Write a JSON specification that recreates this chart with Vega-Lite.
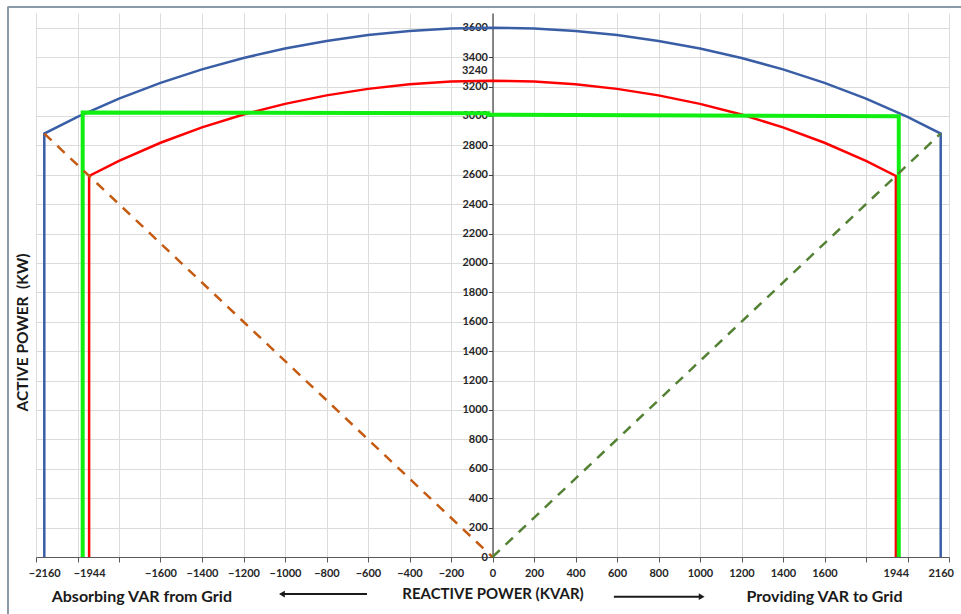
{
  "$schema": "https://vega.github.io/schema/vega-lite/v6.json",
  "width": 913,
  "height": 544,
  "autosize": {"type": "none"},
  "padding": {"left": 36, "top": 13, "right": 12, "bottom": 57},
  "background": "white",
  "config": {
    "view": {"stroke": null},
    "font": "Lato",
    "axis": {"labelFont": "Lato", "labelFontWeight": "bold", "labelFontSize": 11, "labelColor": "#262626", "titleFont": "Lato", "titleFontWeight": "bold", "titleColor": "#1a1a1a", "format": "d"}
  },
  "datasets": {
    "curves": [
      {"series": "blue", "order": 1, "x": -2160, "y": 0},
      {"series": "blue", "order": 2, "x": -2160, "y": 2880},
      {"series": "blue", "order": 3, "x": -2000, "y": 2993.3},
      {"series": "blue", "order": 4, "x": -1800, "y": 3117.7},
      {"series": "blue", "order": 5, "x": -1600, "y": 3224.9},
      {"series": "blue", "order": 6, "x": -1400, "y": 3316.6},
      {"series": "blue", "order": 7, "x": -1200, "y": 3394.1},
      {"series": "blue", "order": 8, "x": -1000, "y": 3458.3},
      {"series": "blue", "order": 9, "x": -800, "y": 3510.0},
      {"series": "blue", "order": 10, "x": -600, "y": 3549.6},
      {"series": "blue", "order": 11, "x": -400, "y": 3577.7},
      {"series": "blue", "order": 12, "x": -200, "y": 3594.4},
      {"series": "blue", "order": 13, "x": 0, "y": 3600},
      {"series": "blue", "order": 14, "x": 200, "y": 3594.4},
      {"series": "blue", "order": 15, "x": 400, "y": 3577.7},
      {"series": "blue", "order": 16, "x": 600, "y": 3549.6},
      {"series": "blue", "order": 17, "x": 800, "y": 3510.0},
      {"series": "blue", "order": 18, "x": 1000, "y": 3458.3},
      {"series": "blue", "order": 19, "x": 1200, "y": 3394.1},
      {"series": "blue", "order": 20, "x": 1400, "y": 3316.6},
      {"series": "blue", "order": 21, "x": 1600, "y": 3224.9},
      {"series": "blue", "order": 22, "x": 1800, "y": 3117.7},
      {"series": "blue", "order": 23, "x": 2000, "y": 2993.3},
      {"series": "blue", "order": 24, "x": 2160, "y": 2880},
      {"series": "blue", "order": 25, "x": 2160, "y": 0},
      {"series": "red", "order": 1, "x": -1944, "y": 0},
      {"series": "red", "order": 2, "x": -1944, "y": 2592},
      {"series": "red", "order": 3, "x": -1800, "y": 2694.0},
      {"series": "red", "order": 4, "x": -1600, "y": 2817.4},
      {"series": "red", "order": 5, "x": -1400, "y": 2921.9},
      {"series": "red", "order": 6, "x": -1200, "y": 3009.6},
      {"series": "red", "order": 7, "x": -1000, "y": 3081.8},
      {"series": "red", "order": 8, "x": -800, "y": 3139.7},
      {"series": "red", "order": 9, "x": -600, "y": 3183.9},
      {"series": "red", "order": 10, "x": -400, "y": 3215.2},
      {"series": "red", "order": 11, "x": -200, "y": 3233.8},
      {"series": "red", "order": 12, "x": 0, "y": 3240},
      {"series": "red", "order": 13, "x": 200, "y": 3233.8},
      {"series": "red", "order": 14, "x": 400, "y": 3215.2},
      {"series": "red", "order": 15, "x": 600, "y": 3183.9},
      {"series": "red", "order": 16, "x": 800, "y": 3139.7},
      {"series": "red", "order": 17, "x": 1000, "y": 3081.8},
      {"series": "red", "order": 18, "x": 1200, "y": 3009.6},
      {"series": "red", "order": 19, "x": 1400, "y": 2921.9},
      {"series": "red", "order": 20, "x": 1600, "y": 2817.4},
      {"series": "red", "order": 21, "x": 1800, "y": 2694.0},
      {"series": "red", "order": 22, "x": 1944, "y": 2592},
      {"series": "red", "order": 23, "x": 1944, "y": 0},
      {"series": "green", "order": 1, "x": -1975, "y": 0},
      {"series": "green", "order": 2, "x": -1975, "y": 3023},
      {"series": "green", "order": 3, "x": -20, "y": 3019},
      {"series": "green", "order": 4, "x": -20, "y": 3008},
      {"series": "green", "order": 5, "x": 1958, "y": 2998},
      {"series": "green", "order": 6, "x": 1958, "y": 0},
      {"series": "orangeDash", "order": 1, "x": -2160, "y": 2880},
      {"series": "orangeDash", "order": 2, "x": 0, "y": 0},
      {"series": "greenDash", "order": 1, "x": 0, "y": 0},
      {"series": "greenDash", "order": 2, "x": 2160, "y": 2880}
    ]
  },
  "layer": [
    {
      "data": {"values": [
        {"x": -2335, "x2": -2335, "y": -420, "y2": 3745},
        {"x": -2335, "x2": 2300, "y": 3741, "y2": 3741}
      ]},
      "mark": {"type": "rule", "color": "#8a9aa6", "strokeWidth": 2, "clip": false},
      "encoding": {
        "x": {"field": "x", "type": "quantitative", "axis": null},
        "x2": {"field": "x2"},
        "y": {"field": "y", "type": "quantitative", "axis": null},
        "y2": {"field": "y2"}
      }
    },
    {
      "data": {"name": "curves"},
      "transform": [{"filter": "datum.series === 'blue'"}],
      "mark": {"type": "line", "color": "#3a5ea6", "strokeWidth": 2.5},
      "encoding": {
        "x": {"field": "x", "type": "quantitative",
          "scale": {"domain": [-2200, 2200], "nice": false, "zero": false},
          "axis": {"orient": "bottom", "values": [-2200,-2000,-1800,-1600,-1400,-1200,-1000,-800,-600,-400,-200,0,200,400,600,800,1000,1200,1400,1600,1800,2000,2200],
            "grid": true, "gridColor": "#dcdcdc", "gridWidth": 1, "labels": false, "ticks": true, "tickSize": 5, "tickColor": "#595959", "domain": true, "domainColor": "#595959", "title": null}},
        "y": {"field": "y", "type": "quantitative",
          "scale": {"domain": [0, 3700], "nice": false},
          "axis": {"orient": "left", "values": [0,200,400,600,800,1000,1200,1400,1600,1800,2000,2200,2400,2600,2800,3000,3200,3400,3600],
            "grid": true, "gridColor": "#dcdcdc", "gridWidth": 1, "labels": false, "ticks": false, "domain": false,
            "title": "ACTIVE POWER \u00a0(KW)", "titleFontSize": 15.5, "titleX": -14, "titleY": 319, "titleBaseline": "middle", "titleAngle": -90, "titleAlign": "center"}},
        "order": {"field": "order", "type": "quantitative"}
      }
    },
    {
      "data": {"name": "curves"},
      "transform": [{"filter": "datum.series === 'red'"}],
      "mark": {"type": "line", "color": "#ff0000", "strokeWidth": 2.5},
      "encoding": {
        "x": {"field": "x", "type": "quantitative",
          "axis": {"orient": "bottom", "values": [-2160,-1944,-1600,-1400,-1200,-1000,-800,-600,-400,-200,0,200,400,600,800,1000,1200,1400,1600,1944,2160],
            "grid": false, "ticks": false, "tickSize": 0, "domain": false, "labelPadding": 10, "labelFontSize": 11, "format": "d",
            "title": "REACTIVE POWER (KVAR)", "titleFontSize": 15, "titlePadding": 8}},
        "y": {"field": "y", "type": "quantitative",
          "axis": {"orient": "left", "offset": -456.5, "format": "d", "values": [0,200,400,600,800,1000,1200,1400,1600,1800,2000,2200,2400,2600,2800,3000,3200,3400,3600],
            "grid": false, "ticks": true, "tickSize": 4, "tickColor": "#404040", "labelPadding": 1, "domain": true, "domainColor": "#404040", "domainWidth": 1.2, "title": null, "labelOverlap": false}},
        "order": {"field": "order", "type": "quantitative"}
      }
    },
    {
      "data": {"name": "curves"},
      "transform": [{"filter": "datum.series === 'green'"}],
      "mark": {"type": "line", "color": "#11ee11", "strokeWidth": 4},
      "encoding": {
        "x": {"field": "x", "type": "quantitative", "axis": null},
        "y": {"field": "y", "type": "quantitative", "axis": null},
        "order": {"field": "order", "type": "quantitative"}
      }
    },
    {
      "data": {"name": "curves"},
      "transform": [{"filter": "datum.series === 'orangeDash'"}],
      "mark": {"type": "line", "color": "#c55a11", "strokeWidth": 2.5, "strokeDash": [10, 8]},
      "encoding": {
        "x": {"field": "x", "type": "quantitative", "axis": null},
        "y": {"field": "y", "type": "quantitative", "axis": null},
        "order": {"field": "order", "type": "quantitative"}
      }
    },
    {
      "data": {"name": "curves"},
      "transform": [{"filter": "datum.series === 'greenDash'"}],
      "mark": {"type": "line", "color": "#548235", "strokeWidth": 2.5, "strokeDash": [10, 8]},
      "encoding": {
        "x": {"field": "x", "type": "quantitative", "axis": null},
        "y": {"field": "y", "type": "quantitative", "axis": null},
        "order": {"field": "order", "type": "quantitative"}
      }
    },
    {
      "data": {"values": [{"x": 0, "y": 3240, "label": "3240"}]},
      "mark": {"type": "text", "align": "right", "baseline": "middle", "dx": -5, "dy": -10, "font": "Lato", "fontWeight": "bold", "fontSize": 11, "color": "#262626"},
      "encoding": {
        "x": {"field": "x", "type": "quantitative", "axis": null},
        "y": {"field": "y", "type": "quantitative", "axis": null},
        "text": {"field": "label"}
      }
    },
    {
      "data": {"values": [
        {"x": -1690, "y": -270, "label": "Absorbing VAR from Grid"},
        {"x": 1600, "y": -270, "label": "Providing VAR to Grid"}
      ]},
      "mark": {"type": "text", "align": "center", "baseline": "middle", "font": "Lato", "fontWeight": "bold", "fontSize": 16, "color": "#1a1a1a", "clip": false},
      "encoding": {
        "x": {"field": "x", "type": "quantitative", "axis": null},
        "y": {"field": "y", "type": "quantitative", "axis": null},
        "text": {"field": "label"}
      }
    },
    {
      "data": {"values": [
        {"x": -1020, "x2": -605, "y": -252},
        {"x": 585, "x2": 1010, "y": -270}
      ]},
      "mark": {"type": "rule", "color": "#1a1a1a", "strokeWidth": 2, "clip": false},
      "encoding": {
        "x": {"field": "x", "type": "quantitative", "axis": null},
        "x2": {"field": "x2"},
        "y": {"field": "y", "type": "quantitative", "axis": null}
      }
    },
    {
      "data": {"values": [
        {"x": -1015, "y": -252, "shape": "triangle-left"},
        {"x": 1008, "y": -270, "shape": "triangle-right"}
      ]},
      "mark": {"type": "point", "filled": true, "color": "#1a1a1a", "opacity": 1, "size": 45, "clip": false},
      "encoding": {
        "x": {"field": "x", "type": "quantitative", "axis": null},
        "y": {"field": "y", "type": "quantitative", "axis": null},
        "shape": {"field": "shape", "type": "nominal", "scale": null}
      }
    }
  ],
  "resolve": {"axis": {"x": "independent", "y": "independent"}}
}
